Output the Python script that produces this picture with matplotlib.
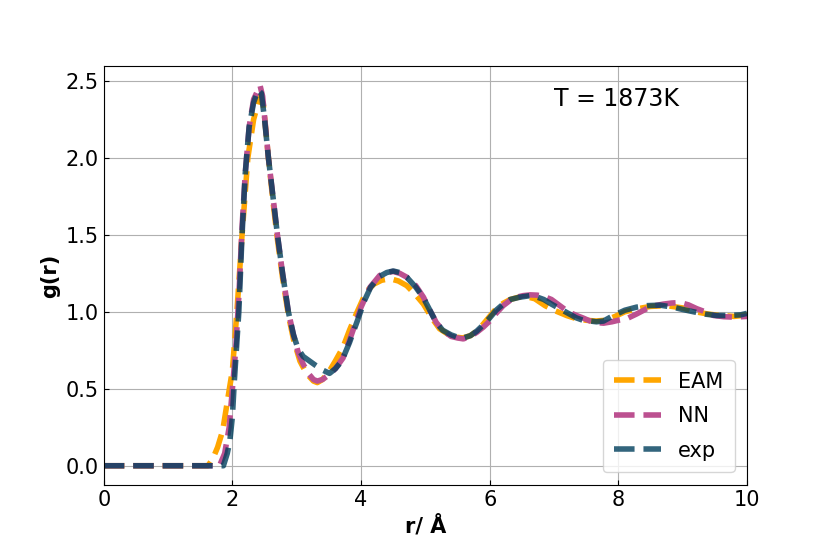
import matplotlib
matplotlib.use("Agg")
import matplotlib.pyplot as plt

# g(r)
r_eam = [0, 1.62, 1.67, 1.72, 1.77, 1.85, 1.93, 2.0, 2.07, 2.15, 2.24, 2.33, 2.43, 2.48, 2.56,
         2.63, 2.70, 2.78, 2.87, 2.95, 3.05, 3.15, 3.26, 3.32, 3.40, 3.50, 3.60, 3.72, 3.82, 3.93,
         4.08, 4.20, 4.32, 4.45, 4.58, 4.71, 4.85, 4.97, 5.10, 5.22, 5.35, 5.48, 5.58, 5.70, 5.80,
         5.90, 6.00, 6.10, 6.21, 6.32, 6.45, 6.55, 6.70, 6.86, 7.0, 7.2, 7.35, 7.5, 7.65, 7.8,
         7.95, 8.1, 8.3, 8.5, 8.75, 9.0, 9.2, 9.4, 9.6, 9.8, 10.0]
g_eam = [0, 0, 0.03, 0.07, 0.12, 0.23, 0.44, 0.62, 1.0, 1.5, 2.0, 2.25, 2.40, 2.35, 2.0,
         1.72, 1.47, 1.22, 0.98, 0.82, 0.68, 0.60, 0.55, 0.54, 0.56, 0.61, 0.68, 0.77, 0.88, 0.99,
         1.13, 1.18, 1.205, 1.215, 1.20, 1.17, 1.11, 1.05, 0.96, 0.89, 0.855, 0.835, 0.83, 0.845, 0.875,
         0.92, 0.97, 1.02, 1.055, 1.08, 1.095, 1.10, 1.085, 1.04, 1.01, 0.975, 0.955, 0.945, 0.94, 0.945,
         0.97, 1.0, 1.02, 1.035, 1.04, 1.025, 1.0, 0.985, 0.975, 0.97, 0.98]

r_nn = [0, 1.80, 1.88, 1.95, 2.00, 2.05, 2.10, 2.15, 2.20, 2.26, 2.33, 2.43, 2.47, 2.50, 2.56,
        2.63, 2.70, 2.78, 2.87, 2.95, 3.02, 3.10, 3.18, 3.26, 3.32, 3.40, 3.50, 3.60, 3.72, 3.85,
        4.00, 4.14, 4.29, 4.40, 4.50, 4.60, 4.71, 4.85, 4.97, 5.07, 5.17, 5.27, 5.40, 5.50, 5.59,
        5.70, 5.80, 5.90, 6.00, 6.10, 6.21, 6.32, 6.42, 6.52, 6.63, 6.74, 6.84, 6.96, 7.09, 7.22,
        7.35, 7.45, 7.56, 7.66, 7.77, 7.90, 8.00, 8.13, 8.28, 8.44, 8.57, 8.70, 8.83, 8.96, 9.09,
        9.22, 9.35, 9.48, 9.64, 9.80, 10.0]
g_nn = [0, 0, 0.08, 0.25, 0.50, 0.75, 1.1, 1.55, 1.9, 2.2, 2.38, 2.47, 2.40, 2.27, 2.0,
        1.75, 1.5, 1.25, 1.0, 0.85, 0.74, 0.66, 0.60, 0.56, 0.55, 0.56, 0.59, 0.63, 0.70, 0.85,
        1.03, 1.16, 1.236, 1.255, 1.262, 1.25, 1.225, 1.17, 1.095, 1.01, 0.93, 0.88, 0.84, 0.83, 0.824,
        0.84, 0.867, 0.90, 0.94, 0.99, 1.04, 1.075, 1.095, 1.105, 1.11, 1.108, 1.10, 1.08, 1.04, 1.00,
        0.976, 0.96, 0.94, 0.93, 0.926, 0.935, 0.945, 0.955, 0.985, 1.02, 1.04, 1.05, 1.057, 1.06, 1.045,
        1.02, 1.0, 0.976, 0.968, 0.965, 0.97]

r_exp = [0, 1.86, 1.92, 1.96, 2.0, 2.03, 2.10, 2.15, 2.20, 2.26, 2.33, 2.40, 2.45, 2.50, 2.56,
         2.63, 2.70, 2.78, 2.87, 2.95, 3.02, 3.10, 3.20, 3.30, 3.41, 3.51, 3.60, 3.70, 3.82, 3.95,
         4.05, 4.15, 4.29, 4.40, 4.50, 4.60, 4.71, 4.85, 4.97, 5.07, 5.17, 5.27, 5.40, 5.50, 5.59,
         5.70, 5.80, 5.90, 6.00, 6.10, 6.21, 6.32, 6.47, 6.63, 6.74, 6.84, 6.96, 7.09, 7.22, 7.35,
         7.45, 7.56, 7.66, 7.77, 7.92, 8.10, 8.28, 8.45, 8.65, 8.85, 9.0, 9.17, 9.35, 9.53, 9.70,
         9.90, 10.0]
g_exp = [0, 0, 0.08, 0.16, 0.32, 0.55, 1.0, 1.5, 1.9, 2.2, 2.36, 2.44, 2.42, 2.25, 2.0,
         1.75, 1.5, 1.25, 1.0, 0.85, 0.76, 0.71, 0.68, 0.65, 0.62, 0.60, 0.63, 0.68, 0.80, 0.95,
         1.07, 1.16, 1.23, 1.255, 1.265, 1.255, 1.225, 1.16, 1.09, 1.01, 0.93, 0.88, 0.85, 0.835, 0.83,
         0.845, 0.875, 0.915, 0.96, 1.01, 1.05, 1.08, 1.095, 1.105, 1.095, 1.08, 1.05, 1.02, 0.99, 0.96,
         0.945, 0.94, 0.935, 0.94, 0.975, 1.01, 1.03, 1.04, 1.043, 1.03, 1.015, 1.0, 0.985, 0.976, 0.976,
         0.98, 0.99]

fig, ax = plt.subplots(figsize=(8.3, 5.54), dpi=100)
fig.subplots_adjust(left=0.125, right=0.9, top=0.88, bottom=0.125)

ax.plot(r_eam, g_eam, '--', color='#ffa600', lw=4, label='EAM')
ax.plot(r_nn, g_nn, '--', color='#bc5090', lw=4, label='NN')
ax.plot(r_exp, g_exp, '--', color='#003f5c', lw=4, alpha=0.8, label='exp')

ax.text(7.0, 2.34, 'T = 1873K', fontsize=17)
ax.set_xlim(0, 10)
ax.set_xlabel('r/ Å', fontsize=15, fontweight='bold')
ax.set_ylabel('g(r)', fontsize=15, fontweight='bold')
ax.tick_params(direction='in', labelsize=15)
ax.grid(True)
ax.legend(loc='lower right', fontsize=15, handlelength=2.25, labelspacing=0.7,
          borderpad=0.55, borderaxespad=0.6)

plt.savefig('out.png')
